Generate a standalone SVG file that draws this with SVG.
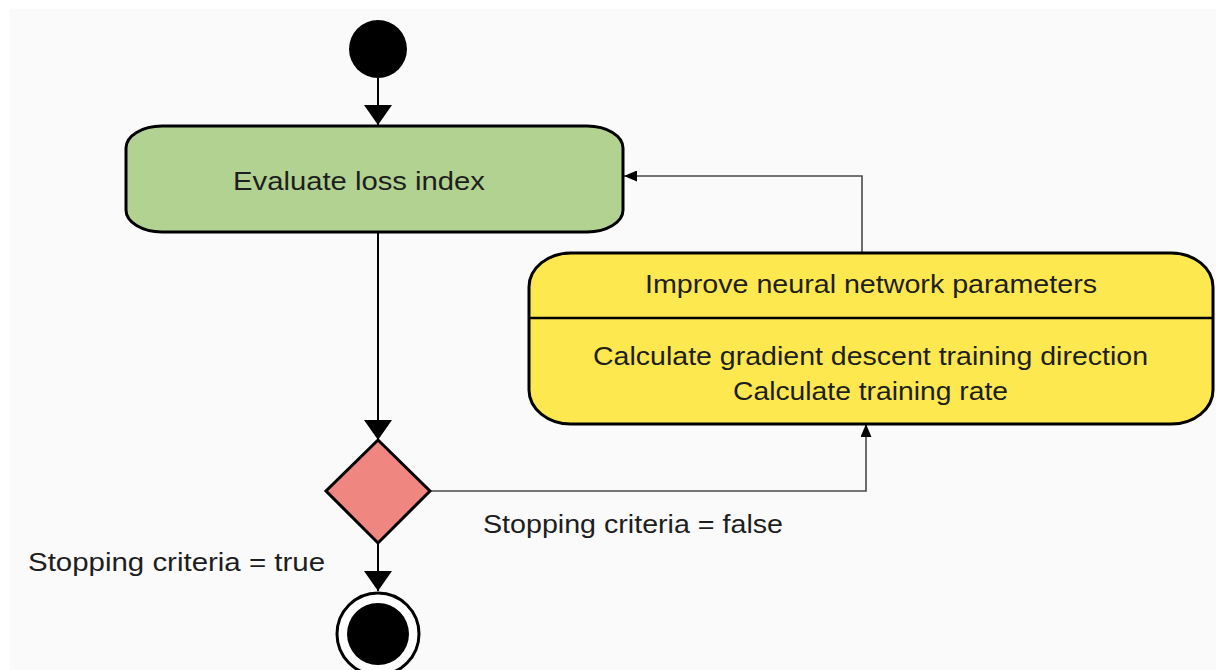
<svg xmlns="http://www.w3.org/2000/svg" width="1216" height="670" viewBox="0 0 1216 670">
<style>
.lbl{font-family:"Liberation Sans",Arial,sans-serif;font-size:26px;fill:#1e1e1e}
.main{stroke:#000;stroke-width:2;fill:none}
.loop{stroke:#4a4a4a;stroke-width:1.6;fill:none}
.shape{stroke:#000;stroke-width:3}
</style>
<defs>
<marker id="big" viewBox="0 0 20 28" refX="20" refY="14" markerWidth="20" markerHeight="28" markerUnits="userSpaceOnUse" orient="auto">
<path d="M0,0 L20,14 L0,28 Z" fill="#000"/>
</marker>
<marker id="small" viewBox="0 0 13 11" refX="13" refY="5.5" markerWidth="13" markerHeight="11" markerUnits="userSpaceOnUse" orient="auto">
<path d="M0,0 L13,5.5 L0,11 Z" fill="#000"/>
</marker>
</defs>
<rect x="0" y="0" width="1216" height="670" fill="#ffffff"/>
<rect x="10" y="9" width="1206" height="661" fill="#fafafa"/>
<g id="connectors">
<path class="main" d="M378,78 V125" marker-end="url(#big)"/>
<path class="main" d="M378,233 V440" marker-end="url(#big)"/>
<path class="main" d="M378,543 V591" marker-end="url(#big)"/>
<path class="loop" d="M430,491 H866 V424" marker-end="url(#small)"/>
<path class="loop" d="M862,252 V176 H624" marker-end="url(#small)"/>
</g>
<g id="start">
<circle cx="378" cy="49" r="29" fill="#000"/>
</g>
<g id="evaluate">
<rect class="shape" x="126" y="126" width="497" height="106" rx="36" ry="22" fill="#b2d291"/>
<text class="lbl" x="233" y="190" textLength="252" lengthAdjust="spacingAndGlyphs">Evaluate loss index</text>
</g>
<g id="improve">
<rect class="shape" x="529" y="253" width="684" height="171" rx="42" ry="34" fill="#fee84f"/>
<line x1="529" y1="318" x2="1213" y2="318" stroke="#000" stroke-width="2.5"/>
<text class="lbl" x="645" y="293" textLength="452" lengthAdjust="spacingAndGlyphs">Improve neural network parameters</text>
<text class="lbl" x="593" y="365" textLength="555" lengthAdjust="spacingAndGlyphs">Calculate gradient descent training direction</text>
<text class="lbl" x="733" y="400" textLength="275" lengthAdjust="spacingAndGlyphs">Calculate training rate</text>
</g>
<g id="decision">
<polygon class="shape" points="378,440 430,491 378,543 326,491" fill="#ef8680" stroke-width="2.5"/>
</g>
<g id="end">
<circle cx="378" cy="634" r="41" fill="#fff" stroke="#000" stroke-width="3"/>
<circle cx="378" cy="634" r="31" fill="#000"/>
</g>
<g id="labels">
<text class="lbl" x="483" y="533" textLength="300" lengthAdjust="spacingAndGlyphs">Stopping criteria = false</text>
<text class="lbl" x="28" y="571" textLength="297" lengthAdjust="spacingAndGlyphs">Stopping criteria = true</text>
</g>
</svg>
